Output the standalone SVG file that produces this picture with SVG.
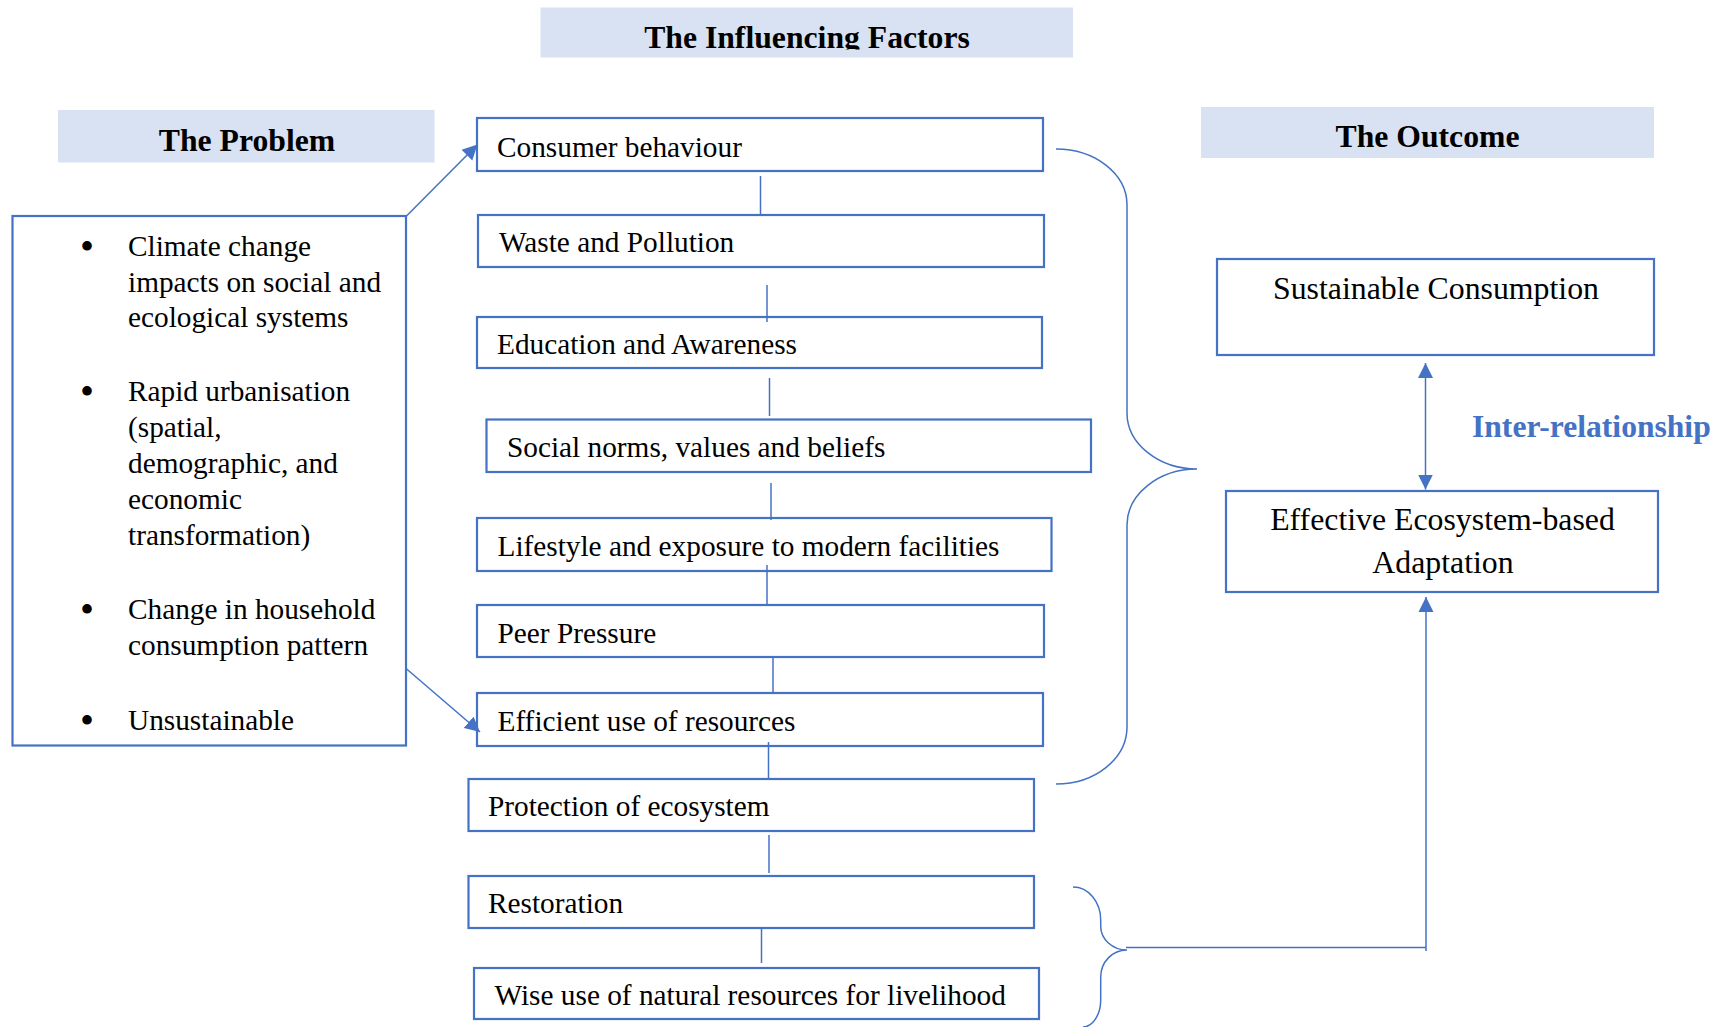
<svg xmlns="http://www.w3.org/2000/svg" width="1729" height="1027" viewBox="0 0 1729 1027">
  <style>
    .hdr { fill: #D9E2F3; stroke: none; }
    .box { fill: #FFFFFF; stroke: #4472C4; stroke-width: 2.2; }
    .ln { fill: none; stroke: #4472C4; stroke-width: 1.5; }
    .t { font-family: "Liberation Serif", "Times New Roman", serif; font-size: 29.3px; fill: #000000; }
    .to { font-family: "Liberation Serif", "Times New Roman", serif; font-size: 31.8px; fill: #000000; text-anchor: middle; }
    .th { font-family: "Liberation Serif", "Times New Roman", serif; font-size: 31.7px; font-weight: bold; fill: #000000; text-anchor: middle; }
    .tb { font-family: "Liberation Serif", "Times New Roman", serif; font-size: 40px; fill: #000000; text-anchor: middle; }
    .tr { font-family: "Liberation Serif", "Times New Roman", serif; font-size: 31.6px; font-weight: bold; fill: #4472C4; }
  </style>
  <defs>
    <marker id="arrow" markerUnits="userSpaceOnUse" markerWidth="16" markerHeight="16" viewBox="0 0 16 16" refX="15" refY="8" orient="auto-start-reverse">
      <path d="M0,0.5 L15,8 L0,15.5 z" fill="#4472C4"/>
    </marker>
    <clipPath id="clipHdr">
      <rect x="540" y="0" width="534" height="49.5"/>
    </clipPath>
  </defs>
  <rect width="1729" height="1027" fill="#FFFFFF"/>

  <!-- column headings -->
  <g id="hdr-factors">
    <rect class="hdr" x="540.5" y="7.5" width="532.5" height="50"/>
    <text class="th" x="807" y="47.5" clip-path="url(#clipHdr)">The Influencing Factors</text>
  </g>
  <g id="hdr-problem">
    <rect class="hdr" x="58" y="110" width="376.5" height="52.5"/>
    <text class="th" x="247" y="150.5">The Problem</text>
  </g>
  <g id="hdr-outcome">
    <rect class="hdr" x="1201" y="107" width="453" height="51"/>
    <text class="th" x="1427.5" y="146.5">The Outcome</text>
  </g>

  <!-- problem statement -->
  <g id="problem">
    <rect class="box" x="12.5" y="216" width="393.5" height="529.5"/>
    <text class="tb" x="87" y="260">•</text>
    <text class="t" x="128" y="256">Climate change</text>
    <text class="t" x="128" y="291.5">impacts on social and</text>
    <text class="t" x="128" y="327">ecological systems</text>
    <text class="tb" x="87" y="405">•</text>
    <text class="t" x="128" y="401">Rapid urbanisation</text>
    <text class="t" x="128" y="437">(spatial,</text>
    <text class="t" x="128" y="473">demographic, and</text>
    <text class="t" x="128" y="509">economic</text>
    <text class="t" x="128" y="545">transformation)</text>
    <text class="tb" x="87" y="623">•</text>
    <text class="t" x="128" y="619">Change in household</text>
    <text class="t" x="128" y="655">consumption pattern</text>
    <text class="tb" x="87" y="734">•</text>
    <text class="t" x="128" y="730">Unsustainable</text>
  </g>

  <!-- influencing factors -->
  <g id="f-consumer">
    <rect class="box" x="477" y="118" width="566" height="53"/>
    <text class="t" x="497" y="156.5">Consumer behaviour</text>
  </g>
  <g id="f-waste">
    <rect class="box" x="478" y="215" width="566" height="52"/>
    <text class="t" x="499" y="252">Waste and Pollution</text>
  </g>
  <g id="f-education">
    <rect class="box" x="477" y="317" width="565" height="51"/>
    <text class="t" x="497" y="354">Education and Awareness</text>
  </g>
  <g id="f-norms">
    <rect class="box" x="486.5" y="419.5" width="604.5" height="52.5"/>
    <text class="t" x="507" y="457">Social norms, values and beliefs</text>
  </g>
  <g id="f-lifestyle">
    <rect class="box" x="477" y="518" width="574.5" height="53"/>
    <text class="t" x="497.5" y="556">Lifestyle and exposure to modern facilities</text>
  </g>
  <g id="f-peer">
    <rect class="box" x="477" y="605" width="567" height="52"/>
    <text class="t" x="497.5" y="642.5">Peer Pressure</text>
  </g>
  <g id="f-efficient">
    <rect class="box" x="477" y="693" width="566" height="53"/>
    <text class="t" x="497.5" y="731">Efficient use of resources</text>
  </g>
  <g id="f-protection">
    <rect class="box" x="468.5" y="779" width="565.5" height="52"/>
    <text class="t" x="488" y="816">Protection of ecosystem</text>
  </g>
  <g id="f-restoration">
    <rect class="box" x="468.5" y="876" width="565.5" height="52"/>
    <text class="t" x="488" y="912.5">Restoration</text>
  </g>
  <g id="f-wiseuse">
    <rect class="box" x="474" y="968" width="565" height="51"/>
    <text class="t" x="494.5" y="1004.5">Wise use of natural resources for livelihood</text>
  </g>

  <!-- outcomes -->
  <g id="o-sustainable">
    <rect class="box" x="1217" y="259" width="437" height="96"/>
    <text class="to" x="1436" y="299">Sustainable Consumption</text>
  </g>
  <g id="o-eba">
    <rect class="box" x="1226" y="491" width="432" height="101"/>
    <text class="to" x="1442.5" y="530">Effective Ecosystem-based</text>
    <text class="to" x="1443" y="573">Adaptation</text>
  </g>
  <g id="label-inter">
    <text class="tr" x="1472" y="437">Inter-relationship</text>
  </g>

  <!-- connectors -->
  <g id="connectors">
    <line class="ln" x1="760.5" y1="176" x2="760.5" y2="215"/>
    <line class="ln" x1="767" y1="285" x2="767" y2="322"/>
    <line class="ln" x1="769.5" y1="378" x2="769.5" y2="416"/>
    <line class="ln" x1="771" y1="483" x2="771" y2="520"/>
    <line class="ln" x1="767" y1="565" x2="767" y2="605"/>
    <line class="ln" x1="773" y1="657" x2="773" y2="693"/>
    <line class="ln" x1="768.5" y1="742" x2="768.5" y2="779"/>
    <line class="ln" x1="769" y1="835" x2="769" y2="873"/>
    <line class="ln" x1="761.5" y1="927" x2="761.5" y2="963"/>

    <!-- problem to factors -->
    <line class="ln" x1="406" y1="216.5" x2="477.5" y2="144.5" marker-end="url(#arrow)"/>
    <line class="ln" x1="405.5" y1="668" x2="480" y2="732" marker-end="url(#arrow)"/>

    <!-- large brace -->
    <path class="ln" d="M1056,149 C1095.2,149 1127,174 1127,205 L1127,413 C1127,443.5 1158.3,469 1197,469 C1158.3,469 1127,494.5 1127,525 L1127,727 C1127,758.5 1095.2,784 1056,784"/>

    <!-- small brace -->
    <path class="ln" d="M1073,887 C1088.5,887 1100.7,901.8 1100.7,920 L1100.7,926 C1100.7,939.3 1112.4,950 1127,950 C1112.4,950 1100.7,962 1100.7,977 L1100.7,1000 C1100.7,1015 1092.4,1027 1083,1027"/>

    <!-- link to adaptation -->
    <polyline class="ln" points="1126,947.5 1426,947.5"/>
    <line class="ln" x1="1426" y1="951" x2="1426" y2="597" marker-end="url(#arrow)"/>

    <!-- inter-relationship -->
    <line class="ln" x1="1425.5" y1="363" x2="1425.5" y2="489.5" marker-start="url(#arrow)" marker-end="url(#arrow)"/>
  </g>
</svg>
